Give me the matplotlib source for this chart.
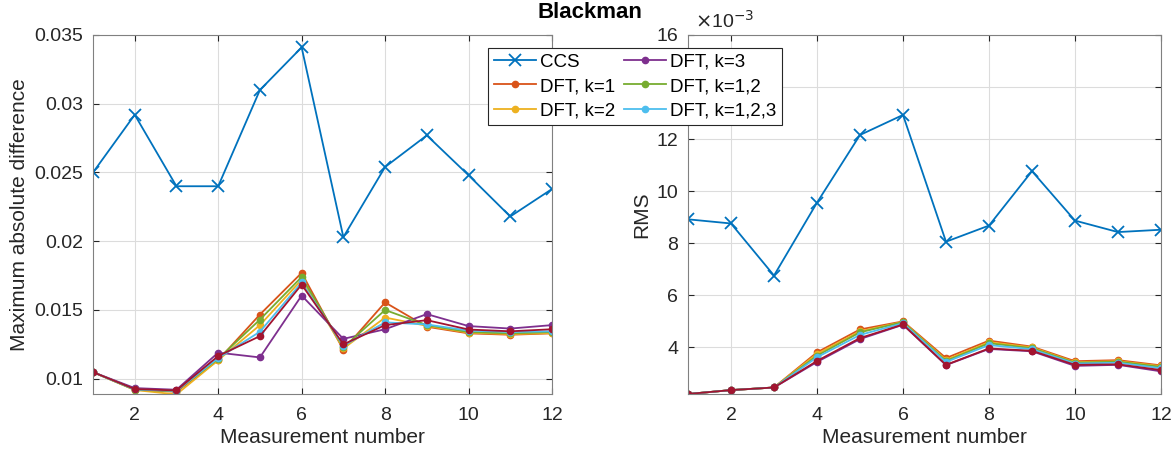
import matplotlib
matplotlib.use("Agg")
import matplotlib.pyplot as plt
from matplotlib.ticker import FuncFormatter

plt.rcParams['font.family'] = ['Liberation Sans', 'DejaVu Sans']

x = list(range(1, 13))

# Left panel: maximum absolute difference
max_ccs = [0.0250, 0.0292, 0.0240, 0.0240, 0.0310, 0.0341, 0.0203, 0.0254, 0.0277, 0.0248, 0.0218, 0.0238]
max_k1 = [0.01048, 0.00920, 0.00905, 0.01135, 0.01467, 0.01770, 0.01210, 0.01555, 0.01378, 0.01330, 0.01320, 0.01330]
max_k2 = [0.01048, 0.00918, 0.00886, 0.01135, 0.01390, 0.01720, 0.01220, 0.01445, 0.01385, 0.01335, 0.01325, 0.01332]
max_k3 = [0.01048, 0.00932, 0.00920, 0.01190, 0.01155, 0.01605, 0.01290, 0.01360, 0.01470, 0.01383, 0.01365, 0.01390]
max_k12 = [0.01048, 0.00920, 0.00910, 0.01145, 0.01430, 0.01740, 0.01228, 0.01500, 0.01390, 0.01340, 0.01330, 0.01340]
max_k123 = [0.01048, 0.00922, 0.00912, 0.01150, 0.01342, 0.01700, 0.01240, 0.01410, 0.01395, 0.01350, 0.01340, 0.01345]
max_k7 = [0.01048, 0.00925, 0.00915, 0.01165, 0.01310, 0.01685, 0.01250, 0.01390, 0.01426, 0.01358, 0.01345, 0.01360]

# Right panel: RMS (x 10^-3)
rms_ccs = [8.92, 8.76, 6.76, 9.56, 12.16, 12.93, 8.06, 8.68, 10.77, 8.87, 8.43, 8.52]
rms_k1 = [2.21, 2.36, 2.46, 3.81, 4.69, 5.00, 3.59, 4.26, 4.03, 3.47, 3.51, 3.31]
rms_k2 = [2.21, 2.36, 2.46, 3.75, 4.62, 4.98, 3.52, 4.20, 4.00, 3.43, 3.47, 3.28]
rms_k3 = [2.21, 2.36, 2.46, 3.44, 4.32, 4.87, 3.32, 3.94, 3.85, 3.29, 3.33, 3.08]
rms_k12 = [2.21, 2.36, 2.46, 3.68, 4.58, 4.97, 3.48, 4.16, 3.97, 3.41, 3.45, 3.25]
rms_k123 = [2.21, 2.36, 2.46, 3.62, 4.48, 4.93, 3.44, 4.09, 3.93, 3.38, 3.41, 3.20]
rms_k7 = [2.21, 2.36, 2.46, 3.48, 4.36, 4.88, 3.33, 3.96, 3.87, 3.33, 3.35, 3.13]

labels = ['CCS', 'DFT, k=1', 'DFT, k=2', 'DFT, k=3', 'DFT, k=1,2', 'DFT, k=1,2,3']
colors = ['#0072BD', '#D95319', '#EDB120', '#7E2F8E', '#77AC30', '#4DBEEE', '#A2142F']

fig = plt.figure(figsize=(11.75, 4.59), dpi=100)
ax1 = fig.add_axes([93 / 1175, 1 - 394 / 459, 459 / 1175, 359 / 459])
ax2 = fig.add_axes([688 / 1175, 1 - 394 / 459, 473 / 1175, 359 / 459])

def draw(ax, ccs, series):
    handles = []
    h, = ax.plot(x, ccs, color=colors[0], marker='x', markersize=9, lw=1.3, mew=1.3, label=labels[0])
    handles.append(h)
    for i, s in enumerate(series):
        lab = labels[i + 1] if i + 1 < len(labels) else None
        h, = ax.plot(x, s, color=colors[i + 1], marker='.', markersize=9, lw=1.3, label=lab)
        if lab:
            handles.append(h)
    return handles

handles = draw(ax1, max_ccs, [max_k1, max_k2, max_k3, max_k12, max_k123, max_k7])
draw(ax2, rms_ccs, [rms_k1, rms_k2, rms_k3, rms_k12, rms_k123, rms_k7])

for ax in (ax1, ax2):
    ax.set_xlim(1, 12)
    ax.set_xticks([2, 4, 6, 8, 10, 12])
    ax.grid(True, color='#dcdcdc', lw=0.8)
    ax.set_axisbelow(True)
    ax.tick_params(direction='in', top=True, right=True, labelsize=14, colors='#262626', length=4)
    ax.tick_params(axis='x', pad=9)
    ax.tick_params(axis='y', pad=7)
    for sp in ax.spines.values():
        sp.set_color('#808080')
    ax.set_xlabel('Measurement number', fontsize=15, color='#262626', labelpad=3)

ax1.set_ylim(0.00889, 0.035)
ax1.set_yticks([0.01, 0.015, 0.02, 0.025, 0.03, 0.035])
ax1.yaxis.set_major_formatter(FuncFormatter(lambda v, p: '%g' % round(v, 4)))
ax1.set_ylabel('Maximum absolute difference', fontsize=15, color='#262626')

ax2.set_ylim(2.21, 16)
ax2.set_yticks([4, 6, 8, 10, 12, 14, 16])
# the "14" label is hidden behind the legend in the reference
ax2.set_yticklabels(['4', '6', '8', '10', '12', '', '16'])
ax2.set_ylabel('RMS', fontsize=15, color='#262626')
ax2.text(0.015, 1.01, r'$\times$10$^{-3}$', transform=ax2.transAxes, fontsize=14,
         color='#262626', ha='left', va='bottom')

fig.text(590 / 1175, 1 - 13 / 459, 'Blackman', ha='center', va='center', fontsize=16, fontweight='bold')

leg = fig.legend(handles=handles, loc='upper left', bbox_to_anchor=(488 / 1175, 1 - 48 / 459),
                 ncol=2, fontsize=13.5, frameon=True, fancybox=False, edgecolor='#262626',
                 framealpha=1, handlelength=2.25, handletextpad=0.2, columnspacing=0.5,
                 labelspacing=0.38, borderpad=0.3, borderaxespad=0)
leg.get_frame().set_linewidth(0.8)

fig.savefig('out.png', dpi=100)
